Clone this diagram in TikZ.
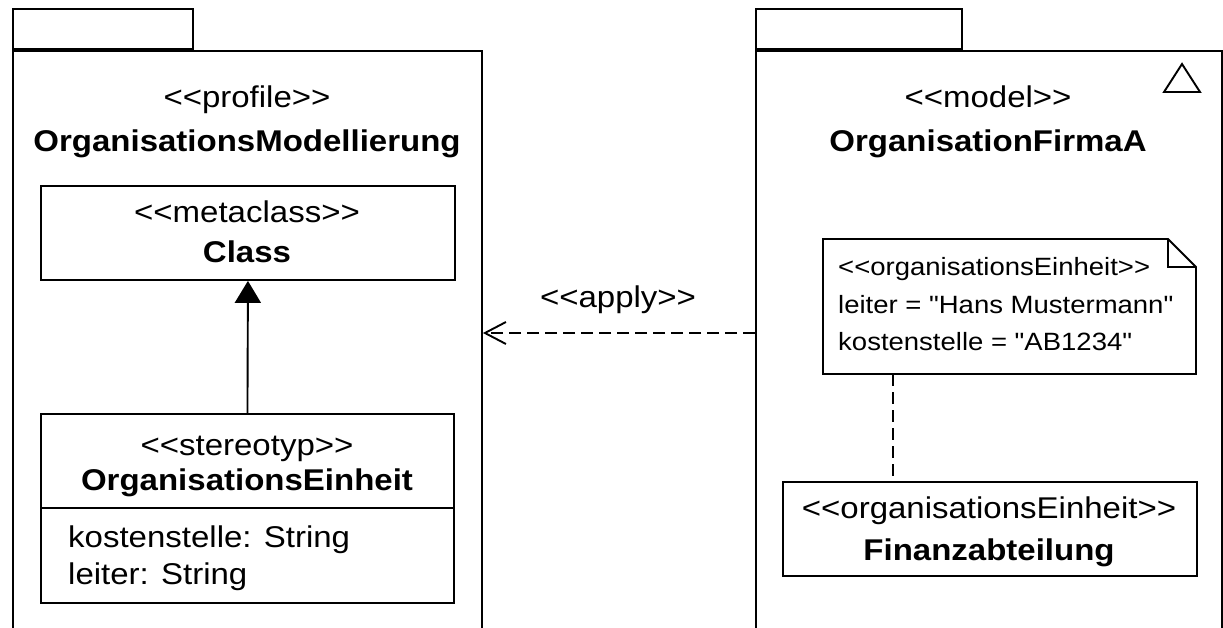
\documentclass[tikz,border=0pt]{standalone}
\usepackage{fontspec}
% plain family without TeX input ligatures, so << >> and " stay as typed
\newfontfamily\umlfont{Liberation Sans}[FakeStretch=1.1]
\usetikzlibrary{arrows.meta}
\begin{document}
\begin{tikzpicture}[x=1pt,y=-1pt,
  outline/.style={draw=black, line width=1.9pt},
  box/.style={outline, fill=white, inner sep=0pt, rectangle},
  big/.style={font=\umlfont\fontsize{30}{36}\selectfont, inner sep=0pt},
  bigbold/.style={font=\umlfont\bfseries\fontsize{30}{36}\selectfont, inner sep=0pt},
  small/.style={font=\umlfont\fontsize{25}{30}\selectfont, inner sep=0pt},
  dashline/.style={line width=1.9pt, dash pattern=on 12pt off 6pt},
]
\useasboundingbox (0,0) rectangle (1223,628);
\fill[white] (0,0) rectangle (1223,628);
\clip (0,0) rectangle (1223,628);

% ---------- profile package ----------
\node[box, anchor=south west, minimum width=180pt, minimum height=40pt] (profiletab) at (12,50) {};
\node[box, anchor=north west, minimum width=469pt, minimum height=620pt] (profilepkg) at (12,50) {};
\node[big, anchor=base] (profilestereo) at (247,108) {<<profile>>};
\node[bigbold, anchor=base] (profilename) at (247,152) {OrganisationsModellierung};

% metaclass
\node[box, anchor=north west, minimum width=414pt, minimum height=94pt] (metaclass) at (40,185) {};
\node[big, anchor=base] (metastereo) at (247,223) {<<metaclass>>};
\node[bigbold, anchor=base] (metaname) at (247,263) {Class};

% stereotype
\node[box, anchor=north west, minimum width=413pt, minimum height=189pt] (stereo) at (40,413) {};
\coordinate (divy) at (0,508);
\draw[outline] (stereo.west |- divy) -- (stereo.east |- divy);
\node[big, anchor=base] (stereostereo) at (247,455) {<<stereotyp>>};
\node[bigbold, anchor=base] (stereoname) at (247,490) {OrganisationsEinheit};
\node[big, anchor=base west] (attrone) at (68,547) {kostenstelle: String};
\node[big, anchor=base west] (attrtwo) at (68,584) {leiter: String};

% extension
\draw[line width=1.9pt, -{Triangle[length=22pt,width=26pt]}] (stereo.north) -- (metaclass.south);

% ---------- model package ----------
\node[box, anchor=south west, minimum width=206pt, minimum height=40pt] (modeltab) at (755,50) {};
\node[box, anchor=north west, minimum width=466pt, minimum height=620pt] (modelpkg) at (755,50) {};
\draw[outline, line join=miter] (1164,92) -- (1200,92) -- (1182,64) -- cycle;
\node[big, anchor=base] (modelstereo) at (988,108) {<<model>>};
\node[bigbold, anchor=base] (modelname) at (988,152) {OrganisationFirmaA};

% note with folded corner
\node[anchor=north west, minimum width=373pt, minimum height=135pt, inner sep=0pt] (note) at (823,239) {};
\draw[outline, fill=white, line join=miter] (823,239) -- (1168,239) -- (1196,267) -- (1196,374) -- (823,374) -- cycle;
\draw[outline, line join=miter] (1168,239) -- (1168,267) -- (1196,267);
\node[small, anchor=base west] (noteone) at (838,276) {<<organisationsEinheit>>};
\node[small, anchor=base west] (notetwo) at (838,313) {leiter = "Hans Mustermann"};
\node[small, anchor=base west] (notethree) at (838,350) {kostenstelle = "AB1234"};

% instance
\node[box, anchor=north west, minimum width=414pt, minimum height=94pt] (finanz) at (782,481) {};
\node[big, anchor=base] (finanzstereo) at (989,518) {<<organisationsEinheit>>};
\node[bigbold, anchor=base] (finanzname) at (989,560) {Finanzabteilung};

% note link
\coordinate (linkx) at (893,0);
\draw[dashline] (note.south -| linkx) -- (finanz.north -| linkx);

% apply dependency
\coordinate (applyy) at (0,333);
\draw[dashline, -{Straight Barb[length=21pt,width=22pt,line width=1.9pt]}]
  (modelpkg.west |- applyy) -- (profilepkg.east |- applyy);
\node[big, anchor=base] (applylabel) at (618,308) {<<apply>>};
\end{tikzpicture}
\end{document}
